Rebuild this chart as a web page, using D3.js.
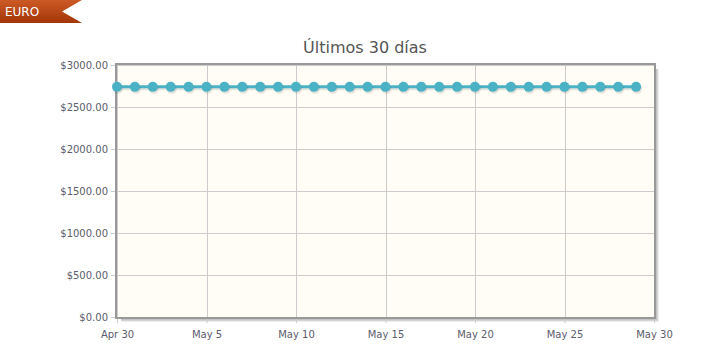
<!DOCTYPE html>
<html>
<head>
<meta charset="utf-8">
<script src="https://cdn.jsdelivr.net/npm/d3@7"></script>
<style>
  body { margin: 0; background: #fff; }
  svg { display: block; }
</style>
</head>
<body>
<svg id="chart" width="704" height="357"></svg>
<script>

// data
let start_date = "2015-04-30";
let prices = [2740, 2740, 2740, 2740, 2740, 2740, 2740, 2740, 2740, 2740,
              2740, 2740, 2740, 2740, 2740, 2740, 2740, 2740, 2740, 2740,
              2740, 2740, 2740, 2740, 2740, 2740, 2740, 2740, 2740, 2740];
let y_ticks = [0, 500, 1000, 1500, 2000, 2500, 3000];
let x_tick_days = [0, 5, 10, 15, 20, 25, 30];
let title_text = "Últimos 30 días";
let banner_text = "EURO";


let svg = d3.select("#chart");
let parse = d3.timeParse("%Y-%m-%d");
let day0 = parse(start_date);

let points = prices.map( function(p, i){
    return { 'date': d3.timeDay.offset(day0, i), 'value': p };
});
let x_ticks = x_tick_days.map( d => d3.timeDay.offset(day0, d) );

let pLeft = 117, pRight = 654, pTop = 65, pBottom = 317;

let x = d3.scaleTime()
    .domain([day0, x_ticks[x_ticks.length-1]])
    .range([pLeft, pRight]);
let y = d3.scaleLinear()
    .domain([0, 3000])
    .range([pBottom, pTop]);

// banner
let defs = svg.append("defs");
let grad = defs.append("linearGradient").attr("id", "bannerGrad")
    .attr("x1", 0).attr("y1", 0).attr("x2", 0).attr("y2", 1);
grad.append("stop").attr("offset", "0%").attr("stop-color", "#cc5a26");
grad.append("stop").attr("offset", "100%").attr("stop-color", "#a33608");

svg.append("path")
    .attr("d", "M0,0 H82 L62,11.5 L82,23 H0 Z")
    .attr("fill", "url(#bannerGrad)");
svg.append("text")
    .attr("x", 5).attr("y", 15.5)
    .attr("font-family", "DejaVu Sans")
    .attr("font-size", "12px")
    .attr("fill", "#fff")
    .text(banner_text);

// title
svg.append("text")
    .attr("x", 365).attr("y", 53)
    .attr("text-anchor", "middle")
    .attr("font-family", "DejaVu Sans")
    .attr("font-size", "16px")
    .attr("fill", "#555")
    .text(title_text);

// plot shadow + background
let sh = svg.append("g").attr("fill", "none");
[[3, 0.07], [2, 0.1], [1, 0.14]].forEach( function(s){
    sh.append("path")
        .attr("d", "M" + (pRight+1+s[0]) + "," + (pTop+4) + " V" + (pBottom+1+s[0]) + " H" + (pLeft+4))
        .attr("stroke", "#000")
        .attr("stroke-opacity", s[1])
        .attr("stroke-width", 2);
});
svg.append("rect")
    .attr("x", pLeft).attr("y", pTop)
    .attr("width", pRight-pLeft).attr("height", pBottom-pTop)
    .attr("fill", "#fffdf6");

// grid
let grid = svg.append("g").attr("stroke", "#cccccc").attr("stroke-width", 1);
grid.selectAll("line.h")
    .data(y_ticks)
    .enter().append("line")
    .attr("x1", pLeft).attr("x2", pRight)
    .attr("y1", d => Math.round(y(d)) + 0.5)
    .attr("y2", d => Math.round(y(d)) + 0.5);
grid.selectAll("line.v")
    .data(x_ticks)
    .enter().append("line")
    .attr("y1", pTop).attr("y2", pBottom)
    .attr("x1", d => Math.round(x(d)) + 0.5)
    .attr("x2", d => Math.round(x(d)) + 0.5);

// axes
let yAxis = d3.axisLeft(y)
    .tickValues(y_ticks)
    .tickSize(5)
    .tickPadding(3)
    .tickFormat( d => "$" + d3.format(".2f")(d) );
let xAxis = d3.axisBottom(x)
    .tickValues(x_ticks)
    .tickSize(5)
    .tickPadding(8)
    .tickFormat( d3.timeFormat("%b %-d") );

let gy = svg.append("g").attr("transform", "translate(" + (pLeft-1) + ",0)").call(yAxis);
let gx = svg.append("g").attr("transform", "translate(0," + (pBottom+1) + ")").call(xAxis);
[gx, gy].forEach( function(g){
    g.select(".domain").remove();
    g.selectAll(".tick line").attr("stroke", "#cccccc");
    g.selectAll(".tick text")
        .attr("font-family", "DejaVu Sans")
        .attr("font-size", "10px")
        .attr("fill", "#5c5c6c");
});

// border
svg.append("rect")
    .attr("x", pLeft-1).attr("y", pTop-1)
    .attr("width", pRight-pLeft+2).attr("height", pBottom-pTop+2)
    .attr("fill", "none")
    .attr("stroke", "#999999")
    .attr("stroke-width", 2);

// series
let line = d3.line()
    .x(d => x(d.date))
    .y(d => y(d.value));

let series = svg.append("g");
series.append("path")
    .datum(points)
    .attr("d", line)
    .attr("transform", "translate(1,2)")
    .attr("fill", "none")
    .attr("stroke", "#000")
    .attr("stroke-opacity", 0.1)
    .attr("stroke-width", 3);
series.append("path")
    .datum(points)
    .attr("d", line)
    .attr("fill", "none")
    .attr("stroke", "#4bb2c5")
    .attr("stroke-width", 3);
series.selectAll("circle.sh")
    .data(points)
    .enter().append("circle")
    .attr("cx", d => x(d.date) + 1)
    .attr("cy", d => y(d.value) + 2)
    .attr("r", 5)
    .attr("fill", "#000")
    .attr("fill-opacity", 0.1);
series.selectAll("circle.pt")
    .data(points)
    .enter().append("circle")
    .attr("cx", d => x(d.date))
    .attr("cy", d => y(d.value))
    .attr("r", 5)
    .attr("fill", "#4bb2c5");

</script>
</body>
</html>
